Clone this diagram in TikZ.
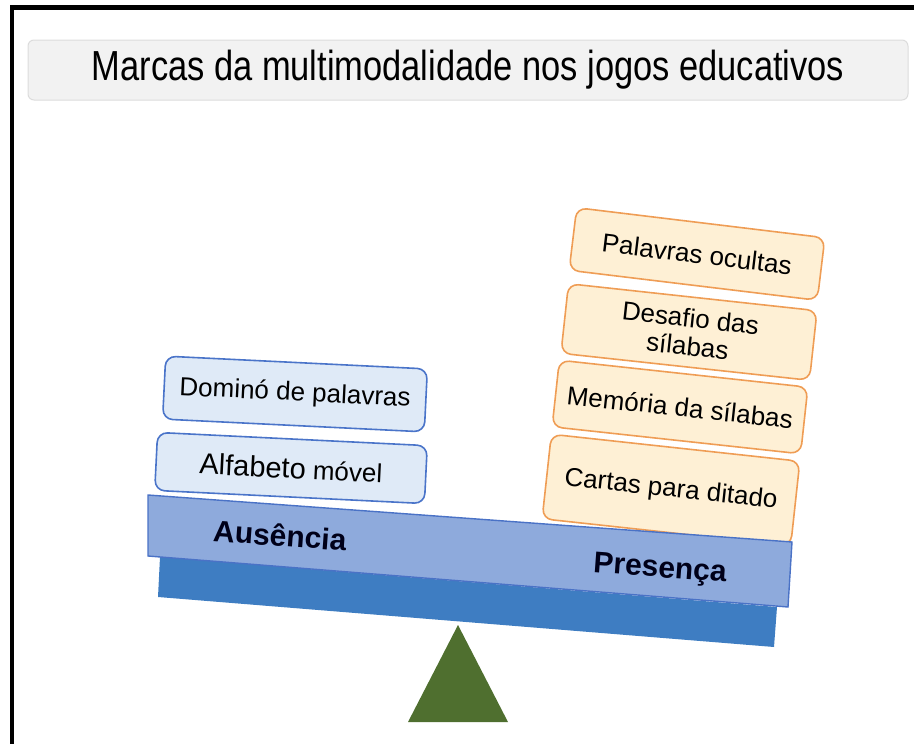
\documentclass[tikz,border=0pt]{standalone}
\usepackage{fontspec}
\setmainfont{Liberation Sans}
\usepackage{xcolor}
\usepackage{tikz}

\definecolor{titlefill}{HTML}{F2F2F2}
\definecolor{titledraw}{HTML}{DCDCDC}
\definecolor{absfill}{HTML}{DFEAF7}
\definecolor{absdraw}{HTML}{4A74C9}
\definecolor{presfill}{HTML}{FEF0D5}
\definecolor{presdraw}{HTML}{EF9D55}
\definecolor{plankfill}{HTML}{8EAADC}
\definecolor{plankdraw}{HTML}{4A72C6}
\definecolor{beamfill}{HTML}{3E7DC2}
\definecolor{basefill}{HTML}{4F6F2F}

\begin{document}
\begin{tikzpicture}[
    x=1pt, y=-1pt,
    titlebox/.style={rectangle, draw=titledraw, fill=titlefill, line width=1pt, rounded corners=6pt, inner sep=0pt, minimum width=880pt, minimum height=60pt, font=\fontsize{42}{44}\selectfont},
    absbox/.style={rectangle, draw=absdraw, fill=absfill, line width=1.6pt, rounded corners=10pt, align=center, inner sep=0pt, rotate=-2.8, font=\fontsize{26}{28}\selectfont},
    presbox/.style={rectangle, draw=presdraw, fill=presfill, line width=1.6pt, rounded corners=10pt, align=center, inner sep=0pt, rotate=-6.2, minimum width=250pt, font=\fontsize{26}{28}\selectfont},
    plabel/.style={font=\fontsize{30}{32}\selectfont\bfseries, text=black!90!blue, rotate=-4.2, inner sep=0pt}
]
\useasboundingbox (0,0) rectangle (914,744);

% frame
\draw[line width=4.5pt] (12,744) -- (12,7.5) -- (914,7.5);

\node[titlebox] (title) at (468,70) {\scalebox{0.82}[1]{Marcas da multimodalidade nos jogos educativos}};

% fulcrum and beam
\coordinate (apex) at (458,625);
\fill[basefill] (apex) -- (508,722) -- (408,722) -- cycle;
\coordinate (bm1) at (160,557);
\coordinate (bm2) at (777,607);
\coordinate (bm3) at (774,647);
\coordinate (bm4) at (158,597);
\fill[beamfill] (bm1) -- (bm2) -- (bm3) -- (bm4) -- cycle;

% Ausencia side
\node[absbox, minimum width=262pt, minimum height=63pt] (domino) at (295,394) {Dominó de palavras};
\node[absbox, minimum width=270pt, minimum height=58pt] (alfabeto) at (291,468) {{\fontsize{29}{30}\selectfont Alfabeto} móvel};

% Presenca side
\node[presbox, minimum height=85pt] (cartas) at (671,490) {Cartas para ditado};
\node[presbox, minimum height=67pt] (memoria) at (680,407) {Memória da sílabas};
\node[presbox, minimum height=70pt] (desafio) at (689,332) {Desafio das\\sílabas};
\node[presbox, minimum height=63pt, rotate=-0.7] (ocultas) at (697,254) {Palavras ocultas};

% plank
\coordinate (pl1) at (148,495);
\coordinate (pl2) at (792,542);
\coordinate (pl3) at (788,607);
\coordinate (pl4) at (148,556);
\filldraw[fill=plankfill, draw=plankdraw, line width=1.4pt] (pl1) -- (pl2) -- (pl3) -- (pl4) -- cycle;

\node[plabel] (ausencia) at (280,535) {Ausência};
\node[plabel] (presenca) at (660,570) {Presença};

\end{tikzpicture}
\end{document}
